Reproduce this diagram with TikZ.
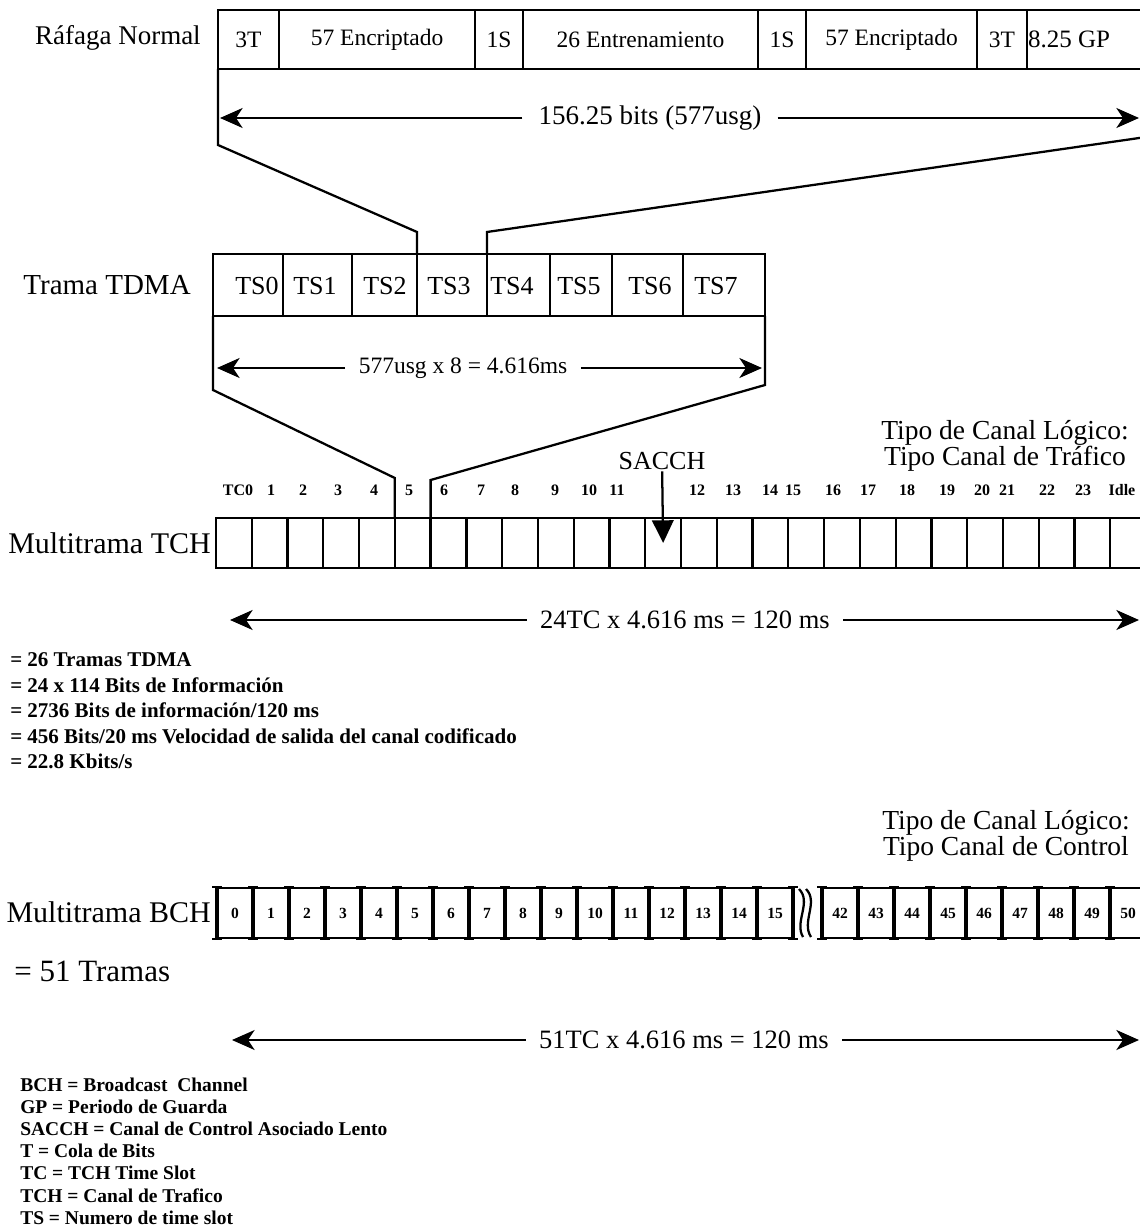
\documentclass[tikz,border=0pt]{standalone}
\usepackage{fontspec}
\setmainfont{Liberation Serif}
\usetikzlibrary{arrows.meta,calc}
\newcommand{\mypx}[1]{\fontsize{\dimexpr #1pt*3/4\relax}{\dimexpr #1pt*3/4\relax}\selectfont}
\begin{document}
\begin{tikzpicture}[x=0.75pt,y=-0.75pt,
  box/.style={draw, line width=1.7pt, inner sep=0pt, outer sep=0pt, anchor=north west},
  bw/.style={minimum width=#1*0.75pt},
  bh/.style={minimum height=#1*0.75pt},
  frame/.style={line width=1.7pt, line join=miter},
  dim/.style={line width=1.6pt, -{Stealth[length=17pt,width=15pt,inset=5pt]}},
  sarrow/.style={line width=1.7pt, -{Triangle[length=17pt,width=16pt]}},
  rowlab/.style={font=\mypx{29}, anchor=east, inner sep=0pt},
  smalllab/.style={font=\bfseries\mypx{16}, inner sep=0pt},
  info/.style={font=\bfseries\mypx{21}, anchor=west, inner sep=0pt},
  legend/.style={font=\bfseries\mypx{19.5}, anchor=west, inner sep=0pt},
  ibeam/.style={line width=2.4pt}
]
\useasboundingbox (0,0) rectangle (1139,1227);

% ---------------- Rafaga Normal ----------------
\node[rowlab, font=\mypx{27}] (lraf) at (201,38) {Ráfaga Normal};
\node[box, bw=61, bh=59, font=\mypx{23.5}] (r1) at (218,10) {3T};
\node[box, bw=196, bh=59, font=\mypx{23.5}] (r2) at (r1.north east) {57 Encriptado\hspace{18pt}};
\node[box, bw=48, bh=59, font=\mypx{23.5}] (r3) at (r2.north east) {1S};
\node[box, bw=235, bh=59, font=\mypx{23.5}] (r4) at (r3.north east) {26 Entrenamiento};
\node[box, bw=48, bh=59, font=\mypx{23.5}] (r5) at (r4.north east) {1S};
\node[box, bw=171, bh=59, font=\mypx{23.5}] (r6) at (r5.north east) {57 Encriptado\hspace{10pt}};
\node[box, bw=50, bh=59, font=\mypx{23.5}] (r7) at (r6.north east) {3T};
\node[box, bw=133, bh=59] (r8) at (r7.north east) {};
\node[font=\mypx{25}, inner sep=0pt] (gp) at (1069,39) {8.25 GP};

\node[font=\mypx{27}, inner xsep=12pt] (d1) at (650,118) {156.25 bits (577usg)};
\coordinate (d1l) at (220,118);
\coordinate (d1r) at (1139,118);
\draw[dim] (d1) -- (d1l);
\draw[dim] (d1) -- (d1r);

% ---------------- Trama TDMA ----------------
\node[rowlab, font=\mypx{29}] (ltdma) at (191,285) {Trama TDMA};
\node[box, bw=70, bh=62] (ts0) at (213,254) {};
\node[box, bw=69, bh=62] (ts1) at (ts0.north east) {};
\node[box, bw=65, bh=62] (ts2) at (ts1.north east) {};
\node[box, bw=70, bh=62] (ts3) at (ts2.north east) {};
\node[box, bw=63, bh=62] (ts4) at (ts3.north east) {};
\node[box, bw=62, bh=62] (ts5) at (ts4.north east) {};
\node[box, bw=71, bh=62] (ts6) at (ts5.north east) {};
\node[box, bw=82, bh=62] (ts7) at (ts6.north east) {};
\foreach \t/\x in {0/257,1/315,2/385,3/449,4/512,5/579,6/650,7/716}
  \node[font=\mypx{26}, inner sep=0pt] (tst\t) at (\x,286) {TS\t};

\coordinate (fa) at (218,145);
\coordinate (fb) at (417,232);
\coordinate (fc) at (1160,135);
\coordinate (fd) at (487,232);
\draw[frame] (r1.south west) -- (fa) -- (fb) -- (ts3.north west);
\draw[frame] (r8.south east) -- (fc) -- (fd) -- (ts3.north east);

\node[font=\mypx{23.5}, inner xsep=10pt] (d2) at (463,368) {577usg x 8 = 4.616ms};
\coordinate (d2l) at (217,368);
\coordinate (d2r) at (762,368);
\draw[dim] (d2) -- (d2l);
\draw[dim] (d2) -- (d2r);

% ---------------- Multitrama TCH ----------------
\node[rowlab, font=\mypx{30}] (ltch) at (211,543) {Multitrama TCH};
\foreach \i in {0,...,25}
  \node[box, bw=35.77, bh=50] (tc\i) at ({216+35.77*\i},518) {};

\foreach \t/\x [count=\i] in {TC0/238,1/271,2/303,3/338,4/374,5/409,6/444,7/481,8/515,9/555,10/589,11/617,12/697,13/733,14/770,15/793,16/833,17/868,18/907,19/947,20/982,21/1007,22/1047,23/1083,Idle/1122}
  \node[smalllab] (tl\i) at (\x,490) {\t};

\coordinate (gy1) at (0,478);
\coordinate (gy2) at (0,480);
\coordinate (ga) at (213,390);
\coordinate (gc) at (765,385);
\draw[frame] (ts0.south west) -- (ga) -- (tc5.north west |- gy1) -- (tc5.north west);
\draw[frame] (ts7.south east) -- (gc) -- (tc5.north east |- gy2) -- (tc5.north east);

\node[font=\mypx{26}, inner sep=1pt] (sacch) at (662,461) {SACCH};
\draw[sarrow] (sacch) -- (tc12.center);

\node[font=\mypx{27.5}, align=center, inner sep=0pt] (tipo1) at (1005,446) {Tipo de Canal Lógico:\\[-1pt]Tipo Canal de Tráfico};

\node[font=\mypx{26.5}, inner xsep=10pt] (d3) at (685,620) {24TC x 4.616 ms = 120 ms};
\coordinate (d3l) at (230,620);
\coordinate (d3r) at (1139,620);
\draw[dim] (d3) -- (d3l);
\draw[dim] (d3) -- (d3r);

\node[info] (i1) at (10,660) {= 26 Tramas TDMA};
\node[info] (i2) at (10,685) {= 24 x 114 Bits de Información};
\node[info] (i3) at (10,710) {= 2736 Bits de información/120 ms};
\node[info] (i4) at (10,736) {= 456 Bits/20 ms Velocidad de salida del canal codificado};
\node[info] (i5) at (10,761) {= 22.8 Kbits/s};

% ---------------- Multitrama BCH ----------------
\node[font=\mypx{27.5}, align=center, inner sep=0pt] (tipo2) at (1006,836) {Tipo de Canal Lógico:\\[-1pt]Tipo Canal de Control};
\node[rowlab, font=\mypx{30}] (lbch) at (211,912) {Multitrama BCH};

\foreach \i in {0,...,15}
  \node[box, bw=36, bh=50, font=\bfseries\mypx{15.5}] (bc\i) at ({217+36*\i},888) {\i};
\foreach \i in {42,...,50}
  \node[box, bw=36, bh=50, font=\bfseries\mypx{15.5}] (bc\i) at ({822+36*(\i-42)},888) {\i};
\foreach \i in {0,...,15,42,43,...,50} {
  \draw[ibeam] (bc\i.north west) -- (bc\i.south west);
  \draw[line width=1.8pt] ($(bc\i.north west)+(-5,-1)$) -- ++(10,0);
  \draw[line width=1.8pt] ($(bc\i.south west)+(-5,1)$) -- ++(10,0);
}
\draw[ibeam] (bc15.north east) -- (bc15.south east);
\draw[line width=1.8pt] ($(bc15.north east)+(-5,-1)$) -- ++(10,0);
\draw[line width=1.8pt] ($(bc15.south east)+(-5,1)$) -- ++(10,0);
\coordinate (w1a) at (799,889);
\coordinate (w1b) at (803,937);
\coordinate (w2a) at (806,889);
\coordinate (w2b) at (811,937);
\draw[line width=1.7pt] (w1a) .. controls (812,902) and (794,922) .. (w1b);
\draw[line width=1.7pt] (w2a) .. controls (819,902) and (801,922) .. (w2b);

\node[font=\mypx{31}, anchor=west, inner sep=0pt] (t51) at (14,971) {= 51 Tramas};

\node[font=\mypx{26.5}, inner xsep=10pt] (d4) at (684,1040) {51TC x 4.616 ms = 120 ms};
\coordinate (d4l) at (232,1040);
\coordinate (d4r) at (1139,1040);
\draw[dim] (d4) -- (d4l);
\draw[dim] (d4) -- (d4r);

% ---------------- Legend ----------------
\node[legend] (g1) at (20,1085) {BCH = Broadcast\ \ Channel};
\node[legend] (g2) at (20,1107) {GP = Periodo de Guarda};
\node[legend] (g3) at (20,1129) {SACCH = Canal de Control Asociado Lento};
\node[legend] (g4) at (20,1151) {T = Cola de Bits};
\node[legend] (g5) at (20,1173) {TC = TCH Time Slot};
\node[legend] (g6) at (20,1196) {TCH = Canal de Trafico};
\node[legend] (g7) at (20,1218) {TS = Numero de time slot};
\end{tikzpicture}
\end{document}
